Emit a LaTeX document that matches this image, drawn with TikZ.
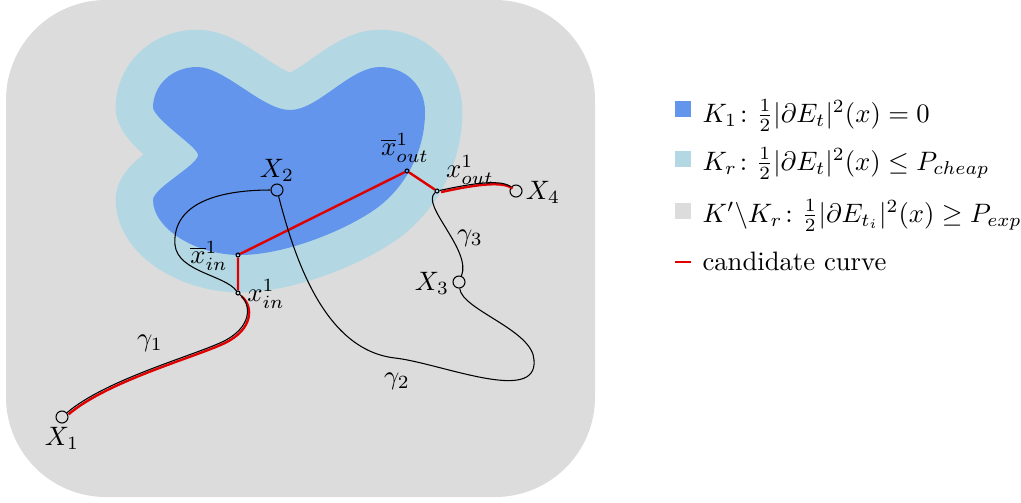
\documentclass[tikz,border=0pt]{standalone}
\usepackage{amsmath}
\definecolor{kone}{RGB}{100,149,237}
\definecolor{kr}{RGB}{179,216,228}
\definecolor{kp}{RGB}{220,220,220}
\definecolor{candred}{RGB}{225,0,0}
\begin{document}
\begin{tikzpicture}[x=0.375pt,y=-0.375pt,
  bigpt/.style={circle,draw,inner sep=0pt,minimum size=4.5pt,line width=0.4pt},
  smallpt/.style={circle,draw,inner sep=0pt,minimum size=1.5pt,line width=0.4pt},
  curve/.style={line width=0.4pt},
  cand/.style={candred, line width=0.9pt},
  candshift/.style={cand, transform canvas={shift={(0.6pt,-0.6pt)}}},
  legsq/.style={inner sep=0pt,minimum size=6pt},
  legtext/.style={anchor=base west,inner sep=0pt}]
\useasboundingbox (0,0) rectangle (1021,502);
\fill[kp, rounded corners=37.5pt] (6,0) rectangle (595,497);
% K_r region (offset of K_1)
\draw[kr, fill=kr, line width=28pt, line join=round]
  (153,108) .. controls (153,85) and (172,67) .. (197,67)
  .. controls (225,67) and (262,110) .. (290,110)
  .. controls (318,110) and (350,67) .. (380,67)
  .. controls (405,67) and (425,85) .. (425,112)
  .. controls (425,150) and (407,183) .. (382,204)
  .. controls (357,225) and (290,255) .. (240,255)
  .. controls (195,255) and (153,228) .. (153,200)
  .. controls (153,188) and (198,165) .. (198,155)
  .. controls (198,147) and (157,122) .. (153,108) -- cycle;
% K_1 region
\fill[kone]
  (153,108) .. controls (153,85) and (172,67) .. (197,67)
  .. controls (225,67) and (262,110) .. (290,110)
  .. controls (318,110) and (350,67) .. (380,67)
  .. controls (405,67) and (425,85) .. (425,112)
  .. controls (425,150) and (407,183) .. (382,204)
  .. controls (357,225) and (290,255) .. (240,255)
  .. controls (195,255) and (153,228) .. (153,200)
  .. controls (153,188) and (198,165) .. (198,155)
  .. controls (198,147) and (157,122) .. (153,108) -- cycle;
% points
\node[bigpt] (X1) at (62,417) {};
\node[bigpt] (X2) at (277,190) {};
\node[bigpt] (X3) at (459,282) {};
\node[bigpt] (X4) at (516,191) {};
\node[smallpt] (xin) at (238,293) {};
\node[smallpt] (xinb) at (238,255) {};
\node[smallpt] (xoutb) at (407,171) {};
\node[smallpt] (xout) at (437,191) {};
\coordinate (m1) at (222,342);
\coordinate (m2) at (175,245);
\coordinate (m3) at (395,358);
\coordinate (m4) at (534,360);
% candidate curve
\draw[candshift] (X1) .. controls (105,380) and (192,356) .. (m1) .. controls (252,328) and (252,305) .. (xin);
\draw[candshift] (xout) .. controls (465,185) and (500,178) .. (X4);
\draw[cand] (xin) -- (xinb) -- (xoutb) -- (xout);
% curves
\draw[curve] (X1) .. controls (105,380) and (192,356) .. (m1) .. controls (252,328) and (252,305) .. (xin);
\draw[curve] (xin) .. controls (225,275) and (178,272) .. (m2) .. controls (172,205) and (215,190) .. (X2);
\draw[curve] (X2) .. controls (295,260) and (325,350) .. (m3) .. controls (440,363) and (538,405) .. (m4) .. controls (533,330) and (462,310) .. (X3);
\draw[curve] (X3) .. controls (472,250) and (420,205) .. (xout);
\draw[curve] (xout) .. controls (465,185) and (500,178) .. (X4);
% labels
\node (lX1) at (62,438) {$X_1$};
\node (lX2) at (277,170) {$X_2$};
\node (lX3) at (432,283) {$X_3$};
\node (lX4) at (543,192) {$X_4$};
\node (lg1) at (150,343) {$\gamma_1$};
\node (lg2) at (397,381) {$\gamma_2$};
\node (lg3) at (470,238) {$\gamma_3$};
\node (lxinb) at (209,256) {$\overline{x}^1_{in}$};
\node (lxin) at (266,294) {$x^1_{in}$};
\node (lxoutb) at (405,148) {$\overline{x}^1_{out}$};
\node (lxout) at (470,170) {$x^1_{out}$};
% legend
\node[legsq, fill=kone] (s1) at (683,108.5) {};
\node[legsq, fill=kr] (s2) at (683,159) {};
\node[legsq, fill=kp] (s3) at (683,210.5) {};
\coordinate (r4a) at (675,262);
\coordinate (r4b) at (691,262);
\draw[cand] (r4a) -- (r4b);
\node[legtext] (t1) at (702,122) {$K_1\colon \frac{1}{2}|\partial E_t|^2(x)=0$};
\node[legtext] (t2) at (702,170) {$K_r\colon \frac{1}{2}|\partial E_t|^2(x)\leq P_{cheap}$};
\node[legtext] (t3) at (702,222) {$K'\backslash K_r\colon \frac{1}{2}|\partial E_{t_i}|^2(x)\geq P_{exp}$};
\node[legtext] (t4) at (702,270) {candidate curve};
\end{tikzpicture}
\end{document}
